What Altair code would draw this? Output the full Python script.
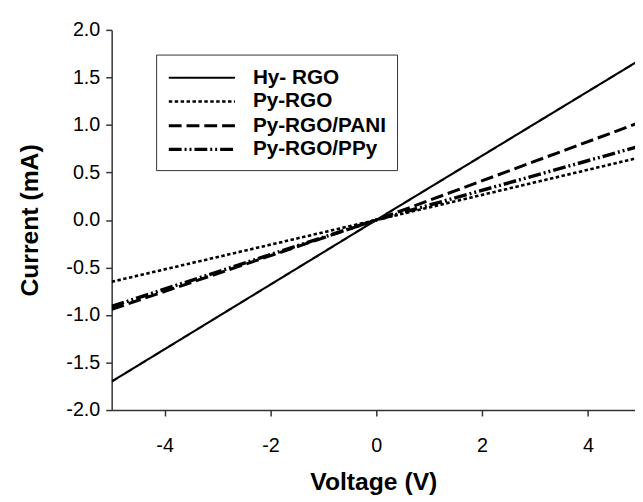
import altair as alt
import pandas as pd

# Data
voltage = [-5.0, 0.0, 5.0]
series_names = ["Hy- RGO", "Py-RGO", "Py-RGO/PANI", "Py-RGO/PPy"]
hy_rgo = [-1.70, 0.0, 1.69]
py_rgo = [-0.65, 0.0, 0.66]
py_rgo_pani = [-0.94, 0.0, 1.03]
py_rgo_ppy = [-0.91, 0.0, 0.78]
x_ticks = [-4, -2, 0, 2, 4]
y_ticks = [-2.0, -1.5, -1.0, -0.5, 0.0, 0.5, 1.0, 1.5, 2.0]

values = [hy_rgo, py_rgo, py_rgo_pani, py_rgo_ppy]
rows = []
for name, ys in zip(series_names, values):
    for v, c in zip(voltage, ys):
        rows.append({"voltage": v, "current": c, "series": name})
df = pd.DataFrame(rows)

FONT = "Liberation Sans"
MINUS = "\u2212"

dash_range = [[1, 0], [3.5, 2.5], [13, 5], [13, 3, 2, 3, 2, 3]]
width_range = [2.2, 3.5, 2, 1.6]

legend = alt.Legend(
    orient="none",
    legendX=45,
    legendY=25,
    title=None,
    columns=1,
    strokeColor="#333333",
    fillColor="white",
    padding=11,
    symbolType="M-1,0H5",
    symbolSize=499,
    symbolStrokeColor="black",
    symbolStrokeWidth=2.6,
    labelFont=FONT,
    labelFontSize=21,
    labelFontWeight="bold",
    labelColor="black",
    labelOffset=61,
    labelLimit=300,
    rowPadding=1,
)

chart = alt.Chart(df).mark_line(clip=True, color="black").encode(
    x=alt.X(
        "voltage:Q",
        scale=alt.Scale(domain=[-5, 4.89], nice=False, zero=False),
        axis=alt.Axis(
            values=x_ticks,
            title="Voltage (V)",
            labelExpr=f"replace(format(datum.value, 'd'), '{MINUS}', '-')",
            titlePadding=14,
            labelPadding=20,
        ),
    ),
    y=alt.Y(
        "current:Q",
        scale=alt.Scale(domain=[-2, 2], nice=False),
        axis=alt.Axis(
            values=y_ticks,
            title="Current (mA)",
            labelExpr=f"replace(format(datum.value, '.1f'), '{MINUS}', '-')",
            titlePadding=24,
            labelPadding=6,
        ),
    ),
    strokeDash=alt.StrokeDash(
        "series:N",
        scale=alt.Scale(domain=series_names, range=dash_range),
        legend=legend,
        sort=series_names,
    ),
    strokeWidth=alt.StrokeWidth(
        "series:N",
        scale=alt.Scale(domain=series_names, range=width_range),
        legend=None,
    ),
    detail="series:N",
).properties(
    width=530,
    height=385,
    background="white",
    autosize=alt.AutoSizeParams(type="none"),
    padding={"left": 105, "top": 19, "right": 0, "bottom": 94},
).configure_view(
    stroke=None
).configure_axis(
    grid=False,
    domainColor="#333333",
    domainWidth=1.5,
    tickColor="#333333",
    tickWidth=1.5,
    tickSize=6,
    labelFont=FONT,
    labelFontSize=20,
    labelColor="black",
    titleFont=FONT,
    titleFontSize=25,
    titleFontWeight="bold",
    titleColor="black",
)

chart.save("out.html", embed_options={"renderer": "svg", "actions": False})
